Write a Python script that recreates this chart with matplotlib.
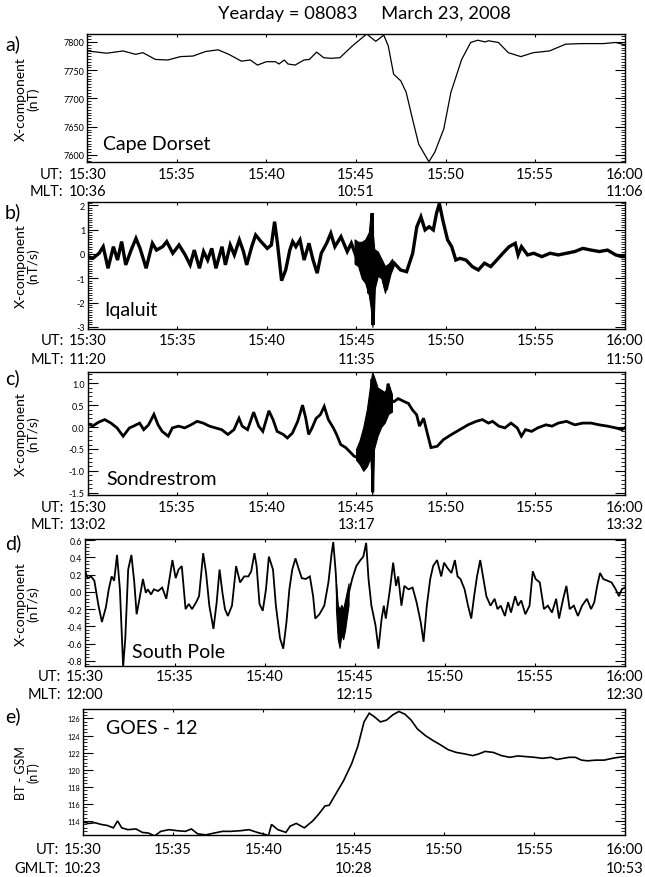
import matplotlib
matplotlib.use('Agg')
import matplotlib.pyplot as plt
from matplotlib.ticker import MultipleLocator, FixedLocator, FormatStrFormatter
import matplotlib.transforms as mtransforms

plt.rcParams['font.family'] = ['Lato', 'DejaVu Sans']

# ---------------- data (minutes after 15:30 UT) ----------------
ut_ticks = [0, 5, 10, 15, 20, 25, 30]
ut_labels = ['15:30', '15:35', '15:40', '15:45', '15:50', '15:55', '16:00']

# a) Cape Dorset X (nT)
a_t = [0, 1.08, 2.0, 2.7, 3.1, 3.8, 4.5, 5.2, 5.9, 6.6, 7.3, 7.9, 8.6, 9.1, 9.5, 10.0, 10.5, 10.7,
       11.0, 11.2, 11.6, 12.1, 12.4, 12.8, 13.2, 13.6, 14.1, 14.8, 15.6, 16.1, 16.55, 16.8, 17.1,
       17.5, 17.8, 18.15, 18.5, 19.07, 19.4, 19.9, 20.3, 20.9, 21.4, 21.8, 22.2, 22.4, 22.95, 23.5,
       24.2, 24.9, 25.8, 26.7, 27.6, 28.8, 29.5, 30]
a_v = [7784, 7780, 7784, 7778, 7781, 7769, 7768, 7774, 7775, 7783, 7786, 7778, 7766, 7768, 7759,
       7765, 7765, 7761, 7768, 7761, 7759, 7768, 7769, 7782, 7772, 7771, 7772, 7793, 7814, 7801,
       7812, 7793, 7743, 7731, 7711, 7664, 7619, 7588, 7605, 7646, 7711, 7769, 7799, 7803, 7800,
       7802, 7799, 7781, 7774, 7781, 7784, 7796, 7797, 7797, 7799, 7795]

# b) Iqaluit dX/dt (nT/s)
b_t = [0, 0.275, 0.62, 0.85, 1.12, 1.42, 1.65, 1.88, 2.11, 2.41, 2.68, 2.91, 3.25, 3.60, 3.83, 4.17,
       4.40, 4.74, 5.09, 5.43, 5.71, 5.94, 6.23, 6.46, 6.69, 6.92, 7.15, 7.49, 7.68, 7.95, 8.18, 8.46,
       8.69, 8.87, 9.15, 9.37, 9.67, 10.02, 10.25, 10.43, 10.59, 10.82, 11.05, 11.28, 11.44, 11.62,
       11.85, 12.08, 12.35, 12.58, 12.81, 13.04, 13.34, 13.57, 13.80, 14.14, 14.49, 14.72, 15.06,
       15.29, 15.45, 15.59, 15.70, 15.82, 15.89, 15.93, 16.02, 16.21, 16.43, 16.66, 16.89, 17.12,
       17.47, 17.81, 18.15, 18.38, 18.61, 18.84, 19.07, 19.30, 19.48, 19.64, 19.83, 20.10, 20.33,
       20.56, 20.79, 21.13, 21.48, 21.82, 22.16, 22.51, 22.85, 23.19, 23.54, 23.88, 24.04, 24.23,
       24.57, 24.91, 25.37, 25.83, 26.29, 26.75, 27.21, 27.66, 28.12, 28.58, 29.04, 29.50, 29.84, 30]
b_v = [-0.11, -0.18, 0.03, 0.30, -0.59, 0.30, -0.25, 0.51, -0.45, 0.16, 0.64, 0.23, -0.59, 0.44,
       0.16, 0.30, 0.51, 0.03, 0.37, -0.04, -0.45, 0.16, -0.59, 0.10, -0.25, 0.23, -0.59, 0.30,
       -0.45, 0.37, -0.04, 0.58, 0.10, -0.45, 0.30, 0.78, 0.51, 0.23, 0.37, 1.33, 0.44, -1.10,
       -0.66, 0.16, 0.51, 0.30, 0.58, -0.25, 0.44, -0.25, -0.79, 0.03, 0.44, 0.85, 0.30, 0.71,
       0.10, 0.44, -0.25, 0.23, -1.07, -0.25, -1.62, 0.71, 1.67, -2.92, -0.93, -0.25, -0.79,
       -1.48, -0.79, -0.38, -0.66, -0.73, 0.03, 1.12, 1.53, 0.99, 1.12, 0.99, 1.67, 2.08, 1.40,
       0.58, 0.30, -0.25, -0.18, -0.25, -0.52, -0.66, -0.38, -0.52, -0.25, 0.03, 0.30, 0.44,
       -0.04, 0.30, -0.04, 0.03, -0.11, 0.03, -0.04, 0.03, 0.10, 0.23, 0.16, 0.10, 0.16, -0.04,
       -0.11, -0.11]
b_burst_t = [14.9, 15.1, 15.3, 15.5, 15.7, 15.8, 15.9, 16.0, 16.2, 16.4, 16.6, 16.8, 17.0]
b_burst_lo = [-0.4, -0.5, -1.0, -1.2, -1.7, -2.2, -3.0, -1.5, -0.9, -1.0, -1.6, -1.0, -0.6]
b_burst_hi = [0.6, 0.5, 0.5, 0.6, 0.9, 1.7, 1.0, 0.2, 0.1, -0.2, -0.5, -0.4, -0.2]

# c) Sondrestrom dX/dt (nT/s)
c_t = [0, 0.275, 0.62, 0.96, 1.31, 1.65, 1.99, 2.34, 2.57, 2.91, 3.14, 3.41, 3.71, 3.94, 4.17, 4.51,
       4.74, 5.09, 5.43, 5.78, 6.12, 6.46, 6.81, 7.15, 7.49, 7.84, 8.18, 8.46, 8.64, 8.94, 9.28, 9.56,
       9.79, 10.13, 10.36, 10.59, 10.93, 11.16, 11.44, 11.74, 12.01, 12.19, 12.35, 12.54, 12.77,
       13.00, 13.22, 13.45, 13.73, 13.91, 14.14, 14.42, 14.71, 14.87, 15.06, 15.24, 15.36, 15.47,
       15.59, 15.70, 15.82, 15.89, 15.93, 16.02, 16.11, 16.21, 16.32, 16.50, 16.66, 16.78, 16.94,
       17.12, 17.35, 17.69, 17.92, 18.15, 18.38, 18.54, 18.77, 18.95, 19.18, 19.53, 19.87, 20.33,
       20.79, 21.25, 21.71, 22.05, 22.39, 22.62, 22.97, 23.31, 23.65, 24.00, 24.23, 24.46, 24.80,
       25.14, 25.60, 25.94, 26.29, 26.75, 27.21, 27.66, 28.12, 28.58, 29.04, 29.50, 29.84, 30]
c_v = [0.09, 0.02, 0.11, 0.17, 0.09, -0.02, -0.21, -0.02, 0.02, 0.09, -0.06, 0.05, 0.29, 0.05,
       -0.10, -0.21, -0.02, 0.02, -0.02, 0.05, 0.13, 0.09, 0.02, -0.02, -0.06, -0.17, -0.06, 0.20,
       0.02, -0.06, 0.34, 0.02, -0.10, 0.37, 0.17, -0.10, -0.17, -0.25, -0.14, 0.13, 0.50, 0.20,
       -0.17, -0.02, 0.20, 0.28, 0.47, 0.17, -0.02, -0.17, -0.40, -0.47, -0.59, -0.66, -0.70,
       -0.55, -0.92, -0.55, -0.40, 0.05, 0.39, 1.10, -1.49, 0.73, 0.20, 0.84, 0.50, 0.77, 0.50,
       0.99, 0.62, 0.58, 0.65, 0.58, 0.54, 0.39, 0.28, 0.02, 0.20, -0.10, -0.47, -0.44, -0.29,
       -0.17, -0.06, 0.05, 0.13, 0.17, 0.09, 0.13, 0.02, -0.02, 0.09, -0.02, -0.21, -0.06, -0.10,
       -0.02, 0.05, 0.02, 0.09, 0.13, 0.05, 0.09, 0.09, 0.05, 0.02, -0.02, -0.06, -0.02]
c_burst_t = [15.0, 15.2, 15.4, 15.6, 15.8, 15.9, 16.0, 16.2, 16.4, 16.6, 16.8, 17.0]
c_burst_lo = [-0.75, -0.85, -1.0, -0.9, -0.7, -1.55, -0.5, -0.2, 0.0, 0.1, 0.3, 0.35]
c_burst_hi = [-0.5, -0.3, 0.0, 0.4, 1.0, 1.25, 1.15, 0.9, 0.85, 0.8, 1.0, 0.75]

# d) South Pole dX/dt (nT/s)
d_t = [0, 0.14, 0.34, 0.52, 0.75, 0.94, 1.16, 1.32, 1.48, 1.62, 1.78, 1.94, 2.12, 2.24, 2.40, 2.58,
       2.74, 2.87, 3.03, 3.22, 3.38, 3.49, 3.67, 3.83, 4.06, 4.29, 4.52, 4.70, 4.86, 5.04, 5.20, 5.38,
       5.59, 5.77, 5.95, 6.18, 6.34, 6.57, 6.73, 6.91, 7.14, 7.32, 7.48, 7.64, 7.78, 7.94, 8.17, 8.40,
       8.62, 8.85, 9.08, 9.24, 9.42, 9.54, 9.70, 9.88, 10.06, 10.22, 10.45, 10.61, 10.84, 11.02,
       11.20, 11.36, 11.52, 11.70, 11.89, 12.05, 12.27, 12.50, 12.68, 12.80, 13.03, 13.30, 13.53,
       13.71, 13.80, 13.94, 14.03, 14.17, 14.33, 14.49, 14.67, 14.85, 15.08, 15.31, 15.47, 15.63,
       15.76, 15.92, 16.15, 16.31, 16.49, 16.61, 16.72, 16.95, 17.13, 17.29, 17.41, 17.59, 17.75,
       17.98, 18.21, 18.43, 18.66, 18.82, 19.00, 19.19, 19.35, 19.57, 19.80, 19.96, 20.14, 20.37,
       20.56, 20.71, 20.87, 21.10, 21.29, 21.47, 21.63, 21.79, 21.97, 22.15, 22.31, 22.54, 22.77,
       22.93, 23.11, 23.34, 23.52, 23.68, 23.91, 24.07, 24.25, 24.48, 24.71, 24.89, 25.05, 25.28,
       25.51, 25.73, 25.96, 26.19, 26.35, 26.58, 26.76, 26.94, 27.17, 27.40, 27.63, 27.90, 28.13,
       28.31, 28.47, 28.63, 28.81, 29.04, 29.27, 29.50, 29.68, 29.84, 30]
d_v = [0.25, 0.16, 0.18, 0.13, -0.16, -0.35, -0.18, 0.03, 0.18, 0.13, 0.43, 0.03, -0.87, -0.54,
       0.26, 0.43, 0.11, -0.26, -0.08, 0.15, -0.01, 0.03, -0.03, 0.03, 0.01, 0.05, -0.08, 0.16,
       0.37, 0.16, 0.26, 0.30, -0.20, -0.14, -0.20, -0.12, -0.05, 0.45, 0.22, -0.16, -0.43, -0.12,
       0.26, -0.01, -0.20, -0.28, -0.16, 0.30, 0.11, 0.18, 0.18, 0.24, 0.45, 0.30, -0.14, -0.22,
       0.03, 0.41, 0.26, -0.16, -0.54, -0.66, -0.35, 0.03, 0.26, 0.39, 0.26, 0.16, 0.15, 0.18,
       -0.05, -0.31, -0.26, -0.16, 0.11, 0.45, 0.58, 0.22, -0.16, -0.50, -0.35, -0.28, -0.01, 0.15,
       0.30, 0.37, 0.41, 0.57, 0.15, -0.16, -0.39, -0.66, -0.31, -0.16, -0.31, 0.03, 0.34, 0.07,
       0.18, -0.16, 0.07, 0.03, 0.05, -0.12, -0.35, -0.58, -0.16, 0.15, 0.30, 0.37, 0.18, 0.34,
       0.28, 0.22, 0.37, 0.18, 0.15, 0.03, -0.16, -0.31, -0.05, 0.18, 0.37, 0.15, -0.05, -0.16,
       -0.08, -0.20, -0.16, -0.28, -0.12, -0.24, -0.05, -0.16, -0.10, -0.26, -0.16, 0.24, 0.15,
       0.11, -0.20, -0.16, -0.24, -0.08, -0.31, -0.08, 0.07, -0.20, -0.16, -0.28, -0.16, -0.08,
       -0.20, -0.12, 0.07, 0.22, 0.15, 0.13, 0.11, 0.03, -0.05, 0.03, 0.05]
d_burst_t = [13.95, 14.05, 14.15, 14.25, 14.35, 14.45, 14.55, 14.65]
d_burst_lo = [-0.2, -0.55, -0.65, -0.5, -0.55, -0.45, -0.3, -0.15]
d_burst_hi = [0.1, -0.15, -0.2, -0.15, -0.2, -0.1, 0.0, 0.1]

# e) GOES-12 BT (nT)
e_t = [0, 0.34, 0.68, 1.02, 1.36, 1.70, 1.93, 2.16, 2.50, 2.95, 3.30, 3.64, 3.98, 4.32, 4.77, 5.23,
       5.68, 6.02, 6.36, 6.82, 7.27, 7.73, 8.18, 8.75, 9.20, 9.66, 10.18, 10.27, 10.45, 10.80, 11.25,
       11.48, 11.82, 12.27, 12.73, 13.07, 13.41, 13.64, 13.98, 14.43, 14.89, 15.23, 15.57, 15.86,
       16.14, 16.48, 16.82, 17.16, 17.50, 17.84, 18.18, 18.52, 18.98, 19.43, 19.77, 20.23, 20.68,
       21.14, 21.59, 21.93, 22.27, 22.73, 23.18, 23.64, 24.09, 24.55, 25.00, 25.45, 25.91, 26.25,
       26.59, 26.93, 27.27, 27.61, 27.95, 28.41, 28.86, 29.32, 29.66, 30]
e_v = [113.89, 113.72, 113.80, 113.60, 113.48, 113.20, 114.01, 113.20, 112.99, 113.07, 112.67,
       112.59, 112.26, 112.79, 112.99, 112.87, 112.79, 113.07, 112.50, 112.38, 112.59, 112.79,
       112.79, 112.87, 112.99, 112.67, 112.38, 112.18, 113.60, 112.99, 112.67, 113.40, 113.72,
       113.20, 114.01, 114.82, 115.76, 115.84, 117.06, 118.68, 120.72, 122.75, 125.59, 126.61,
       126.20, 125.59, 125.80, 126.41, 126.81, 126.49, 125.80, 124.78, 123.97, 123.36, 122.95,
       122.34, 122.02, 121.85, 121.65, 121.85, 122.14, 122.02, 121.65, 121.45, 121.61, 121.53,
       121.45, 121.33, 121.45, 121.20, 121.33, 121.45, 121.45, 121.12, 121.04, 121.12, 121.12,
       121.33, 121.45, 121.53]

# panel texts
panel_letters = ['a)', 'b)', 'c)', 'd)', 'e)']
stations = ['Cape Dorset', 'Iqaluit', 'Sondrestrom', 'South Pole', 'GOES - 12']
ylabels = ['X-component\n(nT)', 'X-component\n(nT/s)', 'X-component\n(nT/s)',
           'X-component\n(nT/s)', 'BT - GSM\n(nT)']
lt_names = ['MLT:', 'MLT:', 'MLT:', 'MLT:', 'GMLT:']
lt_labels = [['10:36', '10:51', '11:06'], ['11:20', '11:35', '11:50'],
             ['13:02', '13:17', '13:32'], ['12:00', '12:15', '12:30'],
             ['10:23', '10:28', '10:53']]
lt_ticks = [0, 15, 30]

# ---------------- layout ----------------
W, H = 645, 878
fig = plt.figure(figsize=(W / 100, H / 100), dpi=100)


def rect(l, r, t, b):
    return [l / W, 1 - b / H, (r - l) / W, (b - t) / H]


boxes = [(87.3, 624.7, 35, 163.3), (88, 624.7, 203, 330), (87.5, 624.7, 373.3, 495.7),
         (85, 624.7, 540, 667.3), (82.7, 624.7, 710, 835.7)]
ylims = [(7587, 7814), (-3.09, 2.14), (-1.546, 1.25), (-0.865, 0.615), (112.4, 127.1)]
ymaj = [50, 1, 0.5, 0.2, 2]
ymin = [5, 0.1, 0.1, 0.04, 0.4]
yfmt = ['%d', '%d', '%.1f', '%.1f', '%d']
ytick_fs = [6.5, 6.5, 6.5, 6.3, 5.2]
row_off = [(11.7, 28.7), (11, 30), (12.6, 29.3), (9.4, 27.7), (14, 33)]
letter_y = [44, 212, 378, 543, 716]
station_pos = [(0.03, 0.147, 'center'), (0.03, 0.157, 'center'), (0.036, 0.132, 'center'),
               (0.087, 0.12, 'center'), (0.043, 0.853, 'center')]
line_w = [0.9, 2.4, 2.0, 1.3, 1.2]

axes = []
for i, (l, r, t, b) in enumerate(boxes):
    ax = fig.add_axes(rect(l, r, t, b))
    axes.append(ax)

series = [(a_t, a_v), (b_t, b_v), (c_t, c_v), (d_t, d_v), (e_t, e_v)]
bursts = [None, (b_burst_t, b_burst_lo, b_burst_hi), (c_burst_t, c_burst_lo, c_burst_hi),
          (d_burst_t, d_burst_lo, d_burst_hi), None]

renderer = fig.canvas.get_renderer()

for i, ax in enumerate(axes):
    l, r, t, b = boxes[i]
    tt, vv = series[i]
    ax.plot(tt, vv, color='black', lw=line_w[i], solid_joinstyle='miter')
    if bursts[i] is not None:
        bt, blo, bhi = bursts[i]
        ax.fill_between(bt, blo, bhi, color='black', lw=0.8)
    ax.set_xlim(0, 30)
    ax.set_ylim(*ylims[i])
    ax.xaxis.set_major_locator(FixedLocator(ut_ticks))
    ax.set_xticklabels([])
    ax.yaxis.set_major_locator(MultipleLocator(ymaj[i]))
    ax.yaxis.set_minor_locator(MultipleLocator(ymin[i]))
    ax.yaxis.set_major_formatter(FormatStrFormatter(yfmt[i]))
    ax.tick_params(axis='x', which='major', direction='in', length=2.5, width=0.8,
                   top=True, bottom=True)
    ax.tick_params(axis='y', which='major', direction='in', length=7, width=0.8,
                   left=True, right=True, labelsize=ytick_fs[i], pad=2)
    ax.tick_params(axis='y', which='minor', direction='in', length=3.2, width=0.6,
                   left=True, right=True)
    for sp in ax.spines.values():
        sp.set_linewidth(1.0)

    # y label
    ax.set_ylabel(ylabels[i], fontsize=10 if i < 4 else 9, linespacing=1.0)
    ax.yaxis.set_label_coords((39.5 - l) / (r - l), 0.5)

    # station label
    sx, sy, va = station_pos[i]
    ax.text(sx, sy, stations[i], transform=ax.transAxes, fontsize=14, va=va, ha='left')

    # panel letter
    fig.text(5 / W, 1 - letter_y[i] / H, panel_letters[i], fontsize=14, va='center', ha='left')

    # time labels
    hpx = b - t
    y1 = -row_off[i][0] / hpx
    y2 = -row_off[i][1] / hpx
    trans = ax.get_xaxis_transform()
    first_ut = None
    for x, lab in zip(ut_ticks, ut_labels):
        txt = ax.text(x, y1, lab, transform=trans, ha='center', va='center', fontsize=10.5)
        if first_ut is None:
            first_ut = txt
    first_lt = None
    for x, lab in zip(lt_ticks, lt_labels[i]):
        txt = ax.text(x, y2, lab, transform=trans, ha='center', va='center', fontsize=10.5)
        if first_lt is None:
            first_lt = txt
    w1 = first_ut.get_window_extent(renderer).width
    w2 = first_lt.get_window_extent(renderer).width
    tr1 = mtransforms.offset_copy(trans, fig=fig, x=-(w1 / 2 + 5), y=0, units='dots')
    tr2 = mtransforms.offset_copy(trans, fig=fig, x=-(w2 / 2 + 5), y=0, units='dots')
    ax.text(0, y1, 'UT:', transform=tr1, ha='right', va='center', fontsize=10.5)
    ax.text(0, y2, lt_names[i], transform=tr2, ha='right', va='center', fontsize=10.5)

fig.text(364 / W, 1 - 14 / H, 'Yearday = 08083     March 23, 2008', fontsize=13.2,
         ha='center', va='center')

fig.savefig('out.png', dpi=100)
